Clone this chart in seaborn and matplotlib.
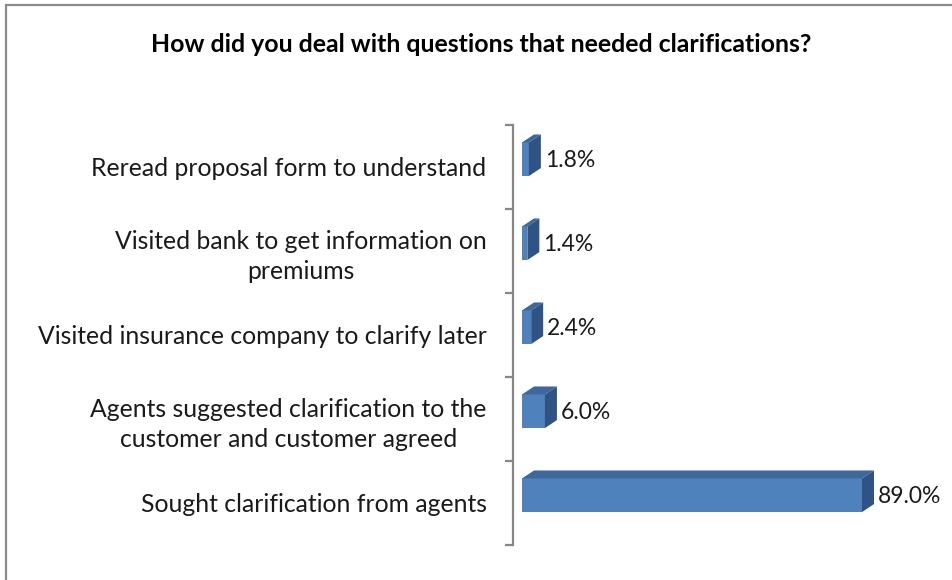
import matplotlib
matplotlib.use("Agg")
import matplotlib.pyplot as plt
from matplotlib.patches import Polygon, Rectangle
from matplotlib.ticker import FixedLocator
import seaborn as sns
import pandas as pd

# Survey responses
categories = [
    "Reread proposal form to understand",
    "Visited bank to get information on\npremiums",
    "Visited insurance company to clarify later",
    "Agents suggested clarification to the\ncustomer and customer agreed",
    "Sought clarification from agents",
]
shares = [1.8, 1.4, 2.4, 6.0, 89.0]
value_labels = ["1.8%", "1.4%", "2.4%", "6.0%", "89.0%"]
title = "How did you deal with questions that needed clarifications?"

df = pd.DataFrame({"category": categories, "share": shares})

sns.set_style("white")
plt.rcParams["font.family"] = ["Lato", "DejaVu Sans"]

W, H = 953, 580
fig = plt.figure(figsize=(W / 100, H / 100), dpi=100)

# chart-area frame (runs off the right and bottom edges)
fig.patches.append(Rectangle((6 / W, -0.1), 1.2, (H - 5) / H + 0.1,
                             transform=fig.transFigure, fill=False,
                             edgecolor="#8a8a8a", linewidth=1.6))

ax = fig.add_axes([513 / W, 35 / H, 440 / W, 420 / H])
px_per_unit = 340 / 89.0
x0 = -9 / px_per_unit
ax.set_xlim(x0, x0 + 440 / px_per_unit)

sns.barplot(data=df, y="category", x="share", orient="h", ax=ax,
            color="#4F81BD", saturation=1, width=0.4, linewidth=0)
ax.set_ylim(4.5, -0.5)

top_col = "#3F689A"
side_col = "#2F5384"
dx = 12 / px_per_unit
dy = 8 / 84
lift = 0.092

for p, lab in zip(ax.patches, value_labels):
    p.set_y(p.get_y() - lift)
    y0, h, w = p.get_y(), p.get_height(), p.get_width()
    ax.add_patch(Polygon([(0, y0), (w, y0), (w + dx, y0 - dy), (dx, y0 - dy)],
                         closed=True, facecolor=top_col, edgecolor="none"))
    ax.add_patch(Polygon([(w, y0), (w, y0 + h), (w + dx, y0 + h - dy), (w + dx, y0 - dy)],
                         closed=True, facecolor=side_col, edgecolor="none"))
    ax.text(w + dx + 4 / px_per_unit, y0 + h / 2 + 0.02, lab,
            ha="left", va="center", fontsize=16.5, color="#1a1a1a")

for s in ["top", "right", "bottom"]:
    ax.spines[s].set_visible(False)
ax.spines["left"].set_color("#878787")
ax.spines["left"].set_linewidth(1.6)

ax.set_xticks([])
ax.set_xlabel("")
ax.set_ylabel("")
ax.yaxis.set_minor_locator(FixedLocator([-0.5, 0.5, 1.5, 2.5, 3.5, 4.5]))
ax.tick_params(axis="y", which="minor", length=6, width=1.6, color="#878787", direction="out", left=True)
ax.tick_params(axis="y", which="major", length=0, pad=19, labelsize=17.8, labelcolor="#1a1a1a")
for t in ax.get_yticklabels():
    t.set_multialignment("center")
    t.set_linespacing(1.35)

fig.text(481 / W, 1 - 45 / H, title, ha="center", va="center",
         fontsize=17.9, fontweight="bold", color="black")

fig.savefig("out.png", dpi=100, facecolor="white")
